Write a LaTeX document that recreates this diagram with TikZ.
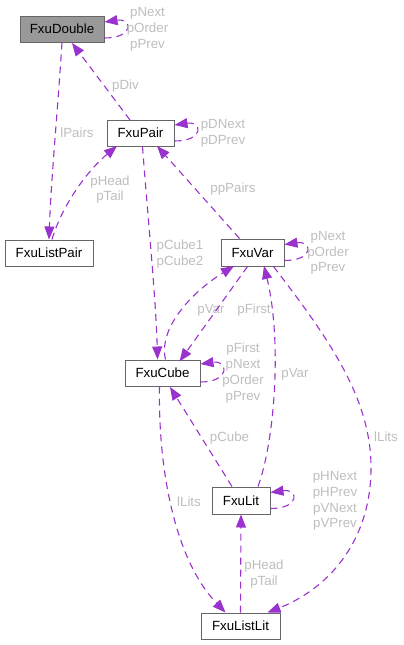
\documentclass[tikz,border=0pt]{standalone}
\usepackage{fontspec}
\setmainfont{Liberation Sans}
\usetikzlibrary{arrows.meta,calc}
\definecolor{edgecol}{HTML}{9A32CD}
\definecolor{labcol}{HTML}{BEBEBE}
\definecolor{boxcol}{HTML}{666666}
\definecolor{mainfill}{HTML}{999999}
\begin{document}
\begin{tikzpicture}[x=1pt,y=-1pt,
  cls/.style={draw=boxcol,line width=1pt,fill=white,minimum height=26pt,inner sep=0pt,
    font=\fontsize{13.3}{15.5}\selectfont},
  lbl/.style={text=labcol,align=center,inner sep=0pt,font=\fontsize{13.3}{15.8}\selectfont},
  edge/.style={draw=edgecol,line width=1.1pt,dash pattern=on 7pt off 5pt,
    -{Triangle[length=13pt,width=10pt,fill=edgecol]}}
]
\useasboundingbox (0,0) rectangle (404,645);
% nodes
\node[cls,fill=mainfill,minimum width=84pt] (dbl) at (62,29) {FxuDouble};
\node[cls,minimum width=67pt] (pair) at (140.5,133) {FxuPair};
\node[cls,minimum width=88pt] (lpair) at (49,253) {FxuListPair};
\node[cls,minimum width=63pt,minimum height=27pt] (var) at (252.5,252.5) {FxuVar};
\node[cls,minimum width=75pt] (cube) at (162.5,373) {FxuCube};
\node[cls,minimum width=58pt,minimum height=27pt] (lit) at (241,500.5) {FxuLit};
\node[cls,minimum width=79pt] (llit) at (240.5,626) {FxuListLit};

% self loops
\draw[edge] ($(dbl.east)+(0,9)$) .. controls +(30,0) and +(28,-4) .. ($(dbl.east)+(0,-7)$);
\node[lbl] (ldbl) at (147.5,29.5) {pNext\\pOrder\\pPrev};
\draw[edge] ($(pair.east)+(0,8)$) .. controls +(30,0) and +(28,-4) .. ($(pair.east)+(0,-8)$);
\node[lbl] (lpairl) at (223,133.5) {pDNext\\pDPrev};
\draw[edge] ($(var.east)+(0,8)$) .. controls +(30,0) and +(28,-4) .. ($(var.east)+(0,-8)$);
\node[lbl] (lvar) at (328,253) {pNext\\pOrder\\pPrev};
\draw[edge] ($(cube.east)+(0,9)$) .. controls +(30,0) and +(28,-4) .. ($(cube.east)+(0,-9)$);
\node[lbl] (lcube) at (243,373) {pFirst\\pNext\\pOrder\\pPrev};
\draw[edge] ($(lit.east)+(0,8)$) .. controls +(30,0) and +(28,-4) .. ($(lit.east)+(0,-8)$);
\node[lbl] (llitl) at (335,501) {pHNext\\pHPrev\\pVNext\\pVPrev};

% edges
\coordinate (c1) at (130,120);
\draw[edge] (c1) -- (72,43);
\node[lbl] at (125.5,86) {pDiv};

\draw[edge] (dbl.south) .. controls (57,120) and (51,180) .. (lpair.north);
\node[lbl] at (77,133) {lPairs};

\draw[edge] ($(lpair.north)+(3,0)$) .. controls (62,205) and (88,170) .. (117,146);
\node[lbl] at (110,189.5) {pHead\\pTail};

\draw[edge] ($(var.north)+(-13,0)$) -- (157,146);
\node[lbl] at (233,189) {ppPairs};

\draw[edge] ($(pair.south)+(2,0)$) .. controls (148,220) and (156,300) .. ($(cube.north)+(-5,0)$);
\node[lbl] at (180,254) {pCube1\\pCube2};

\draw[edge] ($(cube.north)+(3,0)$) .. controls (158,328) and (192,292) .. (234,266);
\node[lbl] at (211,310) {pVar};

\draw[edge] ($(var.south)+(-5,0)$) -- ($(cube.north)+(17,2)$);
\node[lbl] at (254,310) {pFirst};

\draw[edge] ($(lit.north)+(17,0)$) .. controls (275,440) and (282,340) .. (264,266);
\node[lbl] at (295,374) {pVar};

\draw[edge] ($(lit.north)+(-9,0)$) -- (170,387);
\node[lbl] at (229.5,438) {pCube};

\draw[edge] ($(cube.south)+(-3,0)$) .. controls (158,470) and (175,560) .. ($(llit.north)+(-15,0)$);
\node[lbl] at (189,502) {lLits};

\draw[edge] ($(var.south)+(21,0)$) .. controls (330,340) and (372,400) .. (371,470)
   .. controls (370,545) and (325,590) .. ($(llit.north)+(27,0)$);
\node[lbl] at (386,437) {lLits};

\draw[edge] (llit.north) -- (lit.south);
\node[lbl] at (264,574) {pHead\\pTail};
\end{tikzpicture}
\end{document}
